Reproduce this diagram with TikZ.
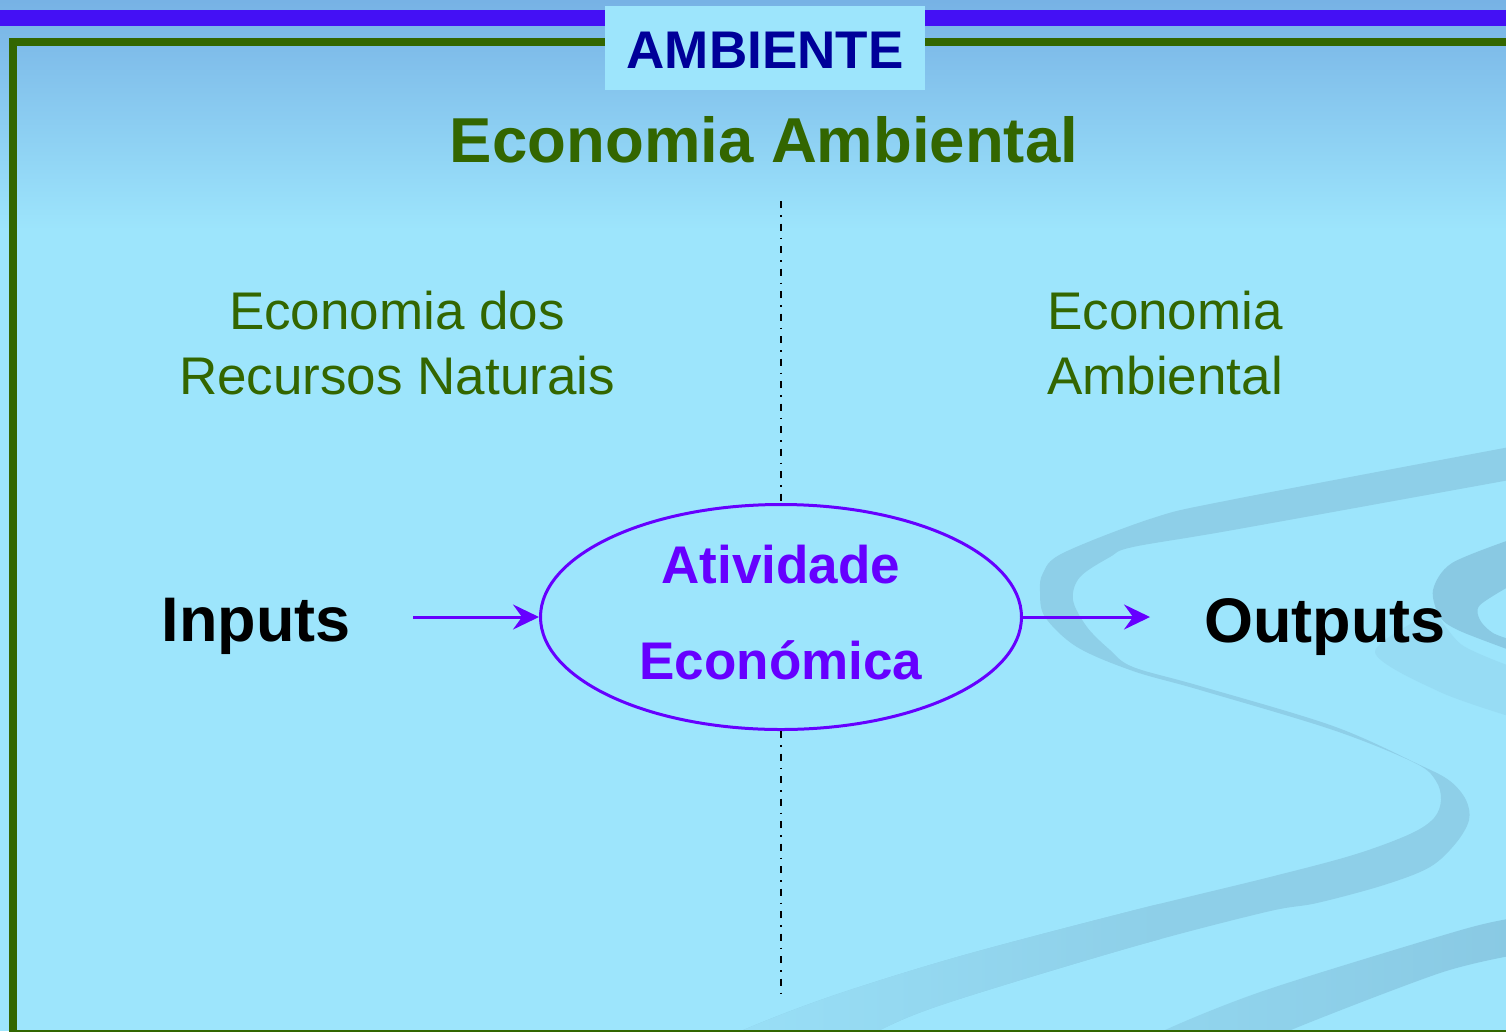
\documentclass[tikz,border=0pt]{standalone}
\usepackage{fontspec}
\setmainfont{Liberation Sans}
\usetikzlibrary{arrows.meta,shapes.geometric}
\definecolor{bgc}{HTML}{9DE5FC}
\definecolor{topc}{HTML}{77B2E5}
\definecolor{barblue}{HTML}{4410F5}
\definecolor{frgreen}{HTML}{336600}
\definecolor{navyc}{HTML}{000099}
\definecolor{vio}{HTML}{6600FF}
\definecolor{bandc}{HTML}{8ECFE8}
\definecolor{bandd}{HTML}{89C9E3}
\definecolor{bandf}{HTML}{97DCF4}
\def\BandOnePts{plot[smooth,tension=0.55] coordinates {(1515,446) (1230,500) (1153,518) (1063,553) (1043,573) (1040,592) (1045,617) (1077,647) (1133,671) (1200,690) (1333,730) (1415,763) (1436,781) (1441,800) (1434,818) (1410,834) (1353,855) (1266,878) (1127,912) (957,957) (829,997) (741,1031) (720,1045)}
 -- plot[smooth,tension=0.55] coordinates {(860,1045) (880,1030) (947,1003) (1132,947) (1266,912) (1317,903) (1384,885) (1430,867) (1456,843) (1469,820) (1466,800) (1450,781) (1420,765) (1333,726) (1200,686) (1133,667) (1110,650) (1087,627) (1073,600) (1080,577) (1110,557) (1133,547) (1233,530) (1515,479)} -- cycle}
\def\BandThreePts{plot[smooth,tension=0.5] coordinates {(1515,918) (1461,930) (1266,990) (1163,1031) (1150,1045)} -- plot[smooth,tension=0.5] coordinates {(1270,1045) (1291,1030) (1440,973) (1515,955)} -- cycle}
\tikzset{
  lbl/.style={anchor=base, inner sep=0pt},
  bigbold/.style={font=\bfseries\fontsize{53}{60}\selectfont},
  plain53/.style={font=\fontsize{53}{60}\selectfont, text=frgreen},
  flow/.style={draw=vio, line width=3pt, -{Stealth[length=26pt,width=25pt,inset=9pt]}},
  dashdot/.style={draw=black, line width=2.5pt, dash pattern=on 7pt off 7pt on 1.5pt off 7pt},
}
\begin{document}
\begin{tikzpicture}[x=1pt,y=-1pt]
\useasboundingbox (0,0) rectangle (1506,1031);
\begin{scope}
\clip (0,0) rectangle (1506,1031);
% background
\fill[bgc] (0,0) rectangle (1506,1031);
\shade[top color=topc, bottom color=bgc] (0,0) rectangle (1506,230);
% decorative swooshes
\fill[bandc] \BandOnePts;
\begin{scope}
\clip \BandOnePts;
\shade[left color=bgc!75!bandc, right color=bandc] (715,880) rectangle (1160,1050);
\end{scope}
\shade[left color=bgc!45!bandd, right color=bandd] \BandThreePts;
\fill[bandf] plot[smooth,tension=0.5] coordinates {(1436,612) (1462,645) (1515,668)} -- plot[smooth,tension=0.5] coordinates {(1515,718) (1440,692) (1375,652) (1433,612)} -- cycle;
\fill[bandd] plot[smooth,tension=0.5] coordinates {(1515,538) (1452,563) (1433,590) (1440,617) (1460,631) (1515,652)} -- plot[smooth,tension=0.5] coordinates {(1515,641) (1493,633) (1480,620) (1480,605) (1515,583)} -- cycle;
% top bar and frame
\fill[barblue] (0,10) rectangle (1506,26);
\draw[frgreen, line width=8pt] (1520,42) -- (13,42) -- (13,1034) -- (1520,1034);
\end{scope}
% title tab
\fill[bgc] (605,6) rectangle (925,90);
\node[lbl, bigbold, text=navyc] (amb) at (765,68) {AMBIENTE};
\node[lbl, font=\bfseries\fontsize{63.5}{70}\selectfont, text=frgreen] (title) at (764,162) {Economia Ambiental};
% side labels
\node[lbl, plain53] (lt1) at (397,329) {Economia dos};
\node[lbl, plain53] (lt2) at (397,394) {Recursos Naturais};
\node[lbl, plain53] (rt1) at (1165,329) {Economia};
\node[lbl, plain53] (rt2) at (1165,394) {Ambiental};
% ellipse
\node[ellipse, draw=vio, line width=3pt, fill=bgc, minimum width=481pt, minimum height=225pt, inner sep=0pt] (eco) at (781,617) {};
\node[lbl, bigbold, text=vio] (eco1) at (781,583) {Atividade};
\node[lbl, bigbold, text=vio] (eco2) at (781,679) {Económica};
% axis
\coordinate (axTop) at (781,201);
\coordinate (axBot) at (781,1000);
\draw[dashdot] (axTop) -- (eco.north);
\draw[dashdot] (eco.south) -- (axBot);
% inputs / outputs
\node[lbl, font=\bfseries\fontsize{63}{70}\selectfont] (inp) at (256,641) {Inputs};
\node[lbl, font=\bfseries\fontsize{63}{70}\selectfont] (outp) at (1325,642) {Outputs};
\coordinate (inStart) at (413,617);
\coordinate (outEnd) at (1150,617);
\draw[flow] (inStart) -- (eco.west);
\draw[flow] (eco.east) -- (outEnd);
\end{tikzpicture}
\end{document}
